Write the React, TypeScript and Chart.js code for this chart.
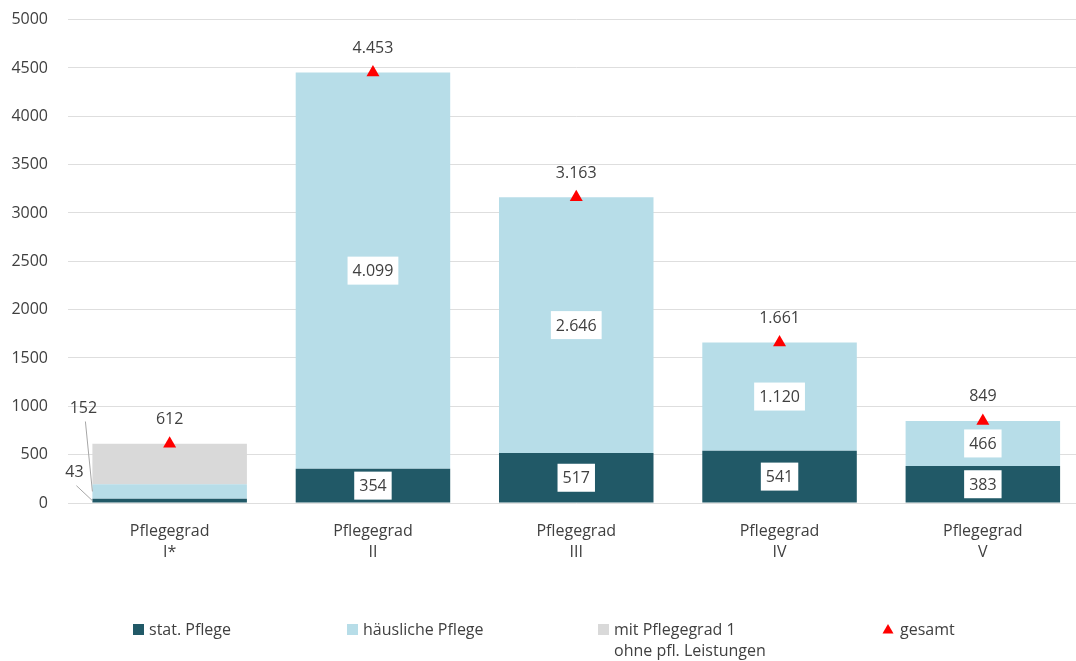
import React, { useEffect, useRef } from "react";
import { Chart, registerables } from "chart.js";

Chart.register(...registerables);

const categories: string[][] = [
  ["Pflegegrad", "I*"],
  ["Pflegegrad", "II"],
  ["Pflegegrad", "III"],
  ["Pflegegrad", "IV"],
  ["Pflegegrad", "V"],
];
const statPflege = [43, 354, 517, 541, 383];
const haeuslichePflege = [152, 4099, 2646, 1120, 466];
const ohneLeistungen = [417, 0, 0, 0, 0];
const gesamt = [612, 4453, 3163, 1661, 849];
const yTicks = [0, 500, 1000, 1500, 2000, 2500, 3000, 3500, 4000, 4500, 5000];

const seriesNames = ["stat. Pflege", "häusliche Pflege", "mit Pflegegrad 1\nohne pfl. Leistungen", "gesamt"];
const COLORS = ["#215967", "#B7DDE8", "#D9D9D9", "#FF0000"];
const FONT = '"Open Sans", "Noto Sans", sans-serif';
const TEXT = "#404040";
const SHIFT = 10;

function fmt(v: number): string {
  const s = String(Math.round(v));
  return s.replace(/\B(?=(\d{3})+(?!\d))/g, ".");
}

const labelPlugin = {
  id: "segLabels",
  afterDatasetsDraw(chart: any) {
    const ctx = chart.ctx as CanvasRenderingContext2D;
    ctx.save();
    ctx.font = `16px ${FONT}`;
    ctx.textAlign = "center";
    ctx.textBaseline = "middle";
    const seg = [statPflege, haeuslichePflege];
    for (let d = 0; d < 2; d++) {
      const meta = chart.getDatasetMeta(d);
      meta.data.forEach((bar: any, i: number) => {
        const p = bar.getProps(["x", "y", "base", "width"], true);
        const cy = (p.y + p.base) / 2;
        const text = fmt(seg[d][i]);
        if (i === 0) {
          const left = p.x - p.width / 2;
          const lx = d === 0 ? left - 18 : left - 9;
          const ly = d === 0 ? cy - 28 : cy - 83;
          ctx.strokeStyle = "#A6A6A6";
          ctx.lineWidth = 1;
          ctx.beginPath();
          ctx.moveTo(lx + 2, ly + 13);
          ctx.lineTo(left, cy);
          ctx.stroke();
          ctx.fillStyle = TEXT;
          ctx.fillText(text, lx, ly);
          return;
        }
        const w = ctx.measureText(text).width + 10;
        const h = 28;
        ctx.fillStyle = "#FFFFFF";
        ctx.fillRect(p.x - w / 2, cy - h / 2, w, h);
        ctx.fillStyle = TEXT;
        ctx.fillText(text, p.x, cy + 1);
      });
    }
    const tmeta = chart.getDatasetMeta(3);
    tmeta.data.forEach((pt: any, i: number) => {
      const p = pt.getProps(["x", "y"], true);
      ctx.fillStyle = TEXT;
      ctx.fillText(fmt(gesamt[i]), p.x, p.y - 24);
    });
    ctx.restore();
  },
  afterDraw(chart: any) {
    const ctx = chart.ctx as CanvasRenderingContext2D;
    ctx.save();
    ctx.font = `16px ${FONT}`;
    ctx.textAlign = "left";
    ctx.textBaseline = "middle";
    const xs = [133, 347, 598, 883];
    const cy = 630 + SHIFT;
    xs.forEach((x, k) => {
      ctx.fillStyle = COLORS[k];
      if (k < 3) {
        ctx.fillRect(x, cy - 6, 11, 11);
      } else {
        ctx.beginPath();
        ctx.moveTo(x + 5, cy - 6);
        ctx.lineTo(x + 10.5, cy + 3.5);
        ctx.lineTo(x - 0.5, cy + 3.5);
        ctx.closePath();
        ctx.fill();
      }
      ctx.fillStyle = TEXT;
      const lines = seriesNames[k].split("\n");
      lines.forEach((ln, j) => ctx.fillText(ln, x + (k === 3 ? 17 : 16), cy + j * 21));
    });
    ctx.restore();
  },
};

export default function App() {
  const ref = useRef<HTMLCanvasElement>(null);
  useEffect(() => {
    const chart = new Chart(ref.current as HTMLCanvasElement, {
      type: "bar",
      data: {
        labels: categories,
        datasets: [
          { label: seriesNames[0], data: statPflege, backgroundColor: COLORS[0], stack: "s", order: 2 },
          { label: seriesNames[1], data: haeuslichePflege, backgroundColor: COLORS[1], stack: "s", order: 2 },
          { label: seriesNames[2], data: ohneLeistungen, backgroundColor: COLORS[2], stack: "s", order: 2 },
          {
            type: "line",
            label: seriesNames[3],
            data: gesamt,
            showLine: false,
            pointStyle: "triangle",
            pointRadius: 7.5,
            pointBackgroundColor: COLORS[3],
            pointBorderWidth: 0,
            borderColor: COLORS[3],
            stack: "g",
            order: 1,
          } as any,
        ],
      },
      options: {
        animation: false,
        responsive: true,
        maintainAspectRatio: false,
        layout: { padding: { left: 0, right: 1, top: 8, bottom: 0 } },
        datasets: { bar: { barPercentage: 0.76, categoryPercentage: 1 } },
        plugins: { legend: { display: false }, tooltip: { enabled: false } },
        scales: {
          x: {
            stacked: true,
            grid: { display: false },
            border: { display: false },
            ticks: {
              color: TEXT,
              font: { family: FONT, size: 16, lineHeight: 1.3 },
              padding: 10,
              maxRotation: 0,
              autoSkip: false,
            },
            afterFit(scale: any) {
              scale.height = 158;
            },
          },
          y: {
            stacked: true,
            min: 0,
            max: 5000,
            afterBuildTicks(scale: any) {
              scale.ticks = yTicks.map((v) => ({ value: v }));
            },
            grid: { color: "#DEDEDE", drawTicks: false },
            border: { display: false },
            ticks: {
              color: TEXT,
              font: { family: FONT, size: 16 },
              padding: 20,
              callback: (v: any) => String(v),
            },
            afterFit(scale: any) {
              scale.width = 68;
            },
          },
        },
      },
      plugins: [labelPlugin],
    } as any);
    return () => chart.destroy();
  }, []);
  return (
    <div style={{ position: "fixed", left: 0, top: -SHIFT, width: 1092, height: 661 + SHIFT, background: "#fff" }}>
      <canvas ref={ref} />
    </div>
  );
}
